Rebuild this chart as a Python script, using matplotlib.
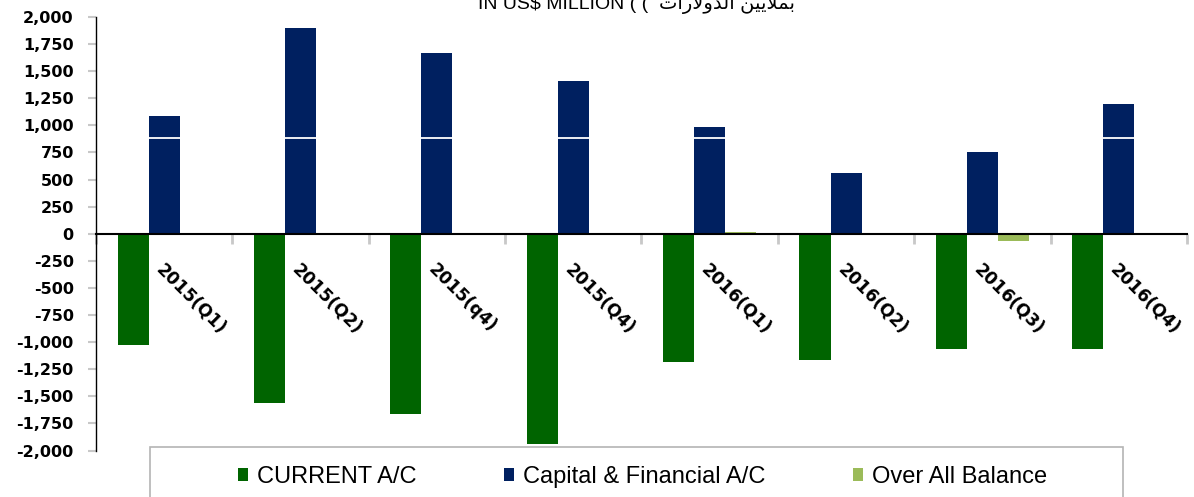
import numpy as np
import matplotlib
matplotlib.use("Agg")
import matplotlib.pyplot as plt
from matplotlib.patches import Rectangle
from matplotlib.ticker import FuncFormatter

# Balance of payments by quarter (US$ million)
quarters = ['2015(Q1)', '2015(Q2)', '2015(q4)', '2015(Q4)',
            '2016(Q1)', '2016(Q2)', '2016(Q3)', '2016(Q4)']
current_ac = [-1030, -1565, -1665, -1935, -1185, -1160, -1065, -1065]
capital_fin = [1090, 1900, 1670, 1410, 985, 560, 750, 1200]
overall_bal = [0, 0, 5, 0, 20, 7, -65, 0]
series_names = ['CURRENT A/C', 'Capital & Financial A/C', 'Over All Balance']

# Arabic part of the title, written in presentation forms (visual order)
ar_word1 = '\uFEE6\uFEF4\uFEF3\uFEFC\uFEE4\uFE91'
ar_word2 = '\uFE95\uFE8D\uFEAD\uFEFB\uFEED\uFEAA\uFEDF\uFE8D'
title = 'IN US$ MILLION ( (  ' + ar_word2 + ' ' + ar_word1

GREEN = '#006400'
NAVY = '#002060'
LIME = '#9BBB59'

fig = plt.figure(figsize=(11.94, 4.97), dpi=100)
ax = fig.add_axes([0.0804, 0.0934, 0.9137, 0.8724])

x = np.arange(len(quarters))
w = 0.2275
bars_cur = ax.bar(x - w, current_ac, w, color=GREEN, zorder=2)
bars_cap = ax.bar(x, capital_fin, w, color=NAVY, zorder=2)
bars_all = ax.bar(x + w, overall_bal, w, color=LIME, zorder=2)

# thin white stripe seen across the tall navy bars
ax.axhline(881, xmin=0.01, xmax=1.0, color='white', lw=1.3, zorder=3)

ax.set_xlim(-0.5, len(quarters) - 0.5)
ax.set_ylim(-2000, 2000)
ax.set_yticks(np.arange(-2000, 2001, 250))
ax.yaxis.set_major_formatter(FuncFormatter(lambda v, p: f'{v:,.0f}'))
ax.tick_params(axis='y', direction='out', length=6, width=1.5,
               color='#c8c8c8', pad=10, labelsize=11.5)
for lab in ax.get_yticklabels():
    lab.set_fontfamily('DejaVu Sans')
    lab.set_fontweight('bold')

ax.set_xticks(np.arange(-0.5, len(quarters), 1))
ax.set_xticklabels([])
ax.tick_params(axis='x', direction='out', length=7, width=2, color='#c8c8c8')

for side in ['top', 'right']:
    ax.spines[side].set_visible(False)
ax.spines['left'].set_color('black')
ax.spines['left'].set_linewidth(1.0)
ax.spines['left'].set_zorder(4)
ax.spines['bottom'].set_position(('data', 0))
ax.spines['bottom'].set_color('black')
ax.spines['bottom'].set_linewidth(1.5)
ax.spines['bottom'].set_zorder(4)

for i, q in enumerate(quarters):
    ax.text(i - 0.04, -300, q, rotation=-45, rotation_mode='anchor',
            ha='left', va='center', fontsize=12.5, fontweight='bold',
            family='DejaVu Sans', zorder=5)

fig.text(478 / 1194, 1 - 9 / 497, title, ha='left', va='baseline',
         fontsize=14, family=['Liberation Sans', 'DejaVu Sans'])

leg = fig.legend([bars_cur, bars_cap, bars_all], series_names,
                 loc='center', bbox_to_anchor=(0.538, 0.04), ncol=3,
                 frameon=False, handlelength=0.45, handleheight=0.45,
                 handletextpad=0.36, columnspacing=3.7,
                 prop={'family': 'Liberation Sans', 'size': 17})

fig.add_artist(Rectangle((150 / 1194, -0.05), 973 / 1194, 0.1506,
                         transform=fig.transFigure, fill=False,
                         edgecolor='#b4b4b4', lw=1.2))

fig.savefig('out.png', dpi=100)
